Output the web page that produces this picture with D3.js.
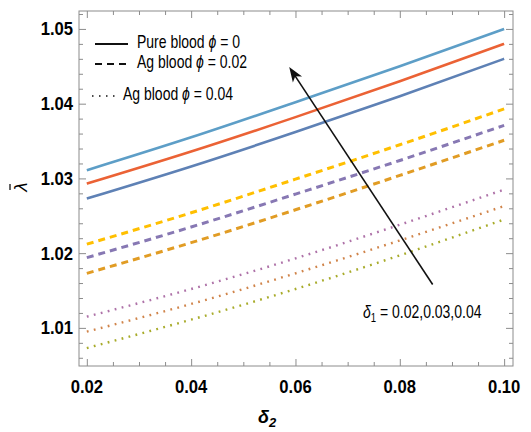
<!DOCTYPE html>
<html>
<head>
<meta charset="utf-8">
<script src="https://cdn.jsdelivr.net/npm/d3@7"></script>
<style>
  body { margin: 0; background: #fff; }
  svg text { font-family: "Liberation Sans", Arial, sans-serif; }
</style>
</head>
<body>
<div id="chart"></div>
<script>
// delta2 values along the x axis
var delta2 = [0.02, 0.04, 0.06, 0.08, 0.10];

// pure blood (phi = 0), delta1 = 0.02, 0.03, 0.04
var pure1 = [1.0273, 1.0316, 1.0362, 1.0410, 1.0460];
var pure2 = [1.0293, 1.0336, 1.0382, 1.0430, 1.0480];
var pure3 = [1.0311, 1.0355, 1.0402, 1.0450, 1.0500];
// Ag blood phi = 0.02
var ag02a = [1.0173, 1.0214, 1.0258, 1.0304, 1.0351];
var ag02b = [1.0194, 1.0235, 1.0279, 1.0324, 1.0371];
var ag02c = [1.0212, 1.0254, 1.0299, 1.0345, 1.0393];
// Ag blood phi = 0.04
var ag04a = [1.0073, 1.0111, 1.0152, 1.0197, 1.0245];
var ag04b = [1.0095, 1.0132, 1.0173, 1.0217, 1.0263];
var ag04c = [1.0115, 1.0152, 1.0193, 1.0238, 1.0285];

var xTicks = [0.02, 0.04, 0.06, 0.08, 0.10];
var yTicks = [1.01, 1.02, 1.03, 1.04, 1.05];
var xMinor = [0.025, 0.03, 0.035, 0.045, 0.05, 0.055, 0.065, 0.07, 0.075, 0.085, 0.09, 0.095];
var yMinor = [1.006, 1.008, 1.012, 1.014, 1.016, 1.018, 1.022, 1.024, 1.026, 1.028,
              1.032, 1.034, 1.036, 1.038, 1.042, 1.044, 1.046, 1.048, 1.052];

// arrow from tail to tip, in data units
var arrow = [[0.0863, 1.0158], [0.0588, 1.0449]];

var w = 531, h = 432;
var mL = 79, mR = 513, mT = 11, mB = 366;
var frameColor = '#8c8c8c';

var series = [
  {v: pure1, color: '#5E81B5', dash: null},
  {v: pure2, color: '#EB6235', dash: null},
  {v: pure3, color: '#5D9EC7', dash: null},
  {v: ag02a, color: '#E19C24', dash: '7,5'},
  {v: ag02b, color: '#8778B3', dash: '7,5'},
  {v: ag02c, color: '#FFBF00', dash: '7,5'},
  {v: ag04a, color: '#A8AB2A', dash: '1.8,5.4'},
  {v: ag04b, color: '#D0844A', dash: '1.8,5.4'},
  {v: ag04c, color: '#AE72A8', dash: '1.8,5.4'}
];

var x = d3.scaleLinear().domain([0.0185, 0.1017]).range([mL, mR]);
var y = d3.scaleLinear().domain([1.0049, 1.0524]).range([mB, mT]);

var svg = d3.select("#chart").append("svg")
   .attr("width", w)
   .attr("height", h);

var line = d3.line()
   .x(function(d, i) { return x(delta2[i]); })
   .y(function(d) { return y(d); })
   .curve(d3.curveNatural);

svg.selectAll("path.curve")
   .data(series)
   .enter()
   .append("path")
   .attr("class", "curve")
   .attr("d", function(d) { return line(d.v); })
   .attr("fill", "none")
   .attr("stroke", function(d) { return d.color; })
   .attr("stroke-width", function(d) { return d.dash == '7,5' ? 3 : (d.dash ? 2.4 : 2.6); })
   .attr("stroke-dasharray", function(d) { return d.dash; });

// frame + ticks (inward on all four sides)
function axes(axisFn, scale, vals, size, tx, ty) {
  var g = svg.append("g")
     .attr("transform", "translate(" + tx + "," + ty + ")")
     .call(axisFn(scale).tickValues(vals).tickSize(size).tickFormat("").tickSizeOuter(0));
  g.select(".domain").remove();
  g.selectAll("line").attr("stroke", frameColor);
  return g;
}
axes(d3.axisBottom, x, xTicks, -7, 0, mB);
axes(d3.axisBottom, x, xMinor, -4, 0, mB);
axes(d3.axisTop, x, xTicks, -7, 0, mT);
axes(d3.axisTop, x, xMinor, -4, 0, mT);
axes(d3.axisLeft, y, yTicks, -7, mL, 0);
axes(d3.axisLeft, y, yMinor, -4, mL, 0);
axes(d3.axisRight, y, yTicks, -7, mR, 0);
axes(d3.axisRight, y, yMinor, -4, mR, 0);

svg.append("rect")
   .attr("x", mL).attr("y", mT)
   .attr("width", mR - mL).attr("height", mB - mT)
   .attr("fill", "none").attr("stroke", frameColor).attr("stroke-width", 1);

// tick labels (slightly condensed, like the original)
svg.selectAll("g.xt")
   .data(xTicks)
   .enter()
   .append("g")
   .attr("transform", function(d) { return "translate(" + x(d) + "," + (mB + 27) + ") scale(0.9,1)"; })
   .append("text")
   .attr("text-anchor", "middle")
   .attr("font-size", "18.5px")
   .attr("font-weight", "bold")
   .text(function(d) { return d3.format(".2f")(d); });

svg.selectAll("g.yt")
   .data(yTicks)
   .enter()
   .append("g")
   .attr("transform", function(d) { return "translate(" + (mL - 6) + "," + (y(d) + 6.5) + ") scale(0.9,1)"; })
   .append("text")
   .attr("text-anchor", "end")
   .attr("font-size", "18.5px")
   .attr("font-weight", "bold")
   .text(function(d) { return d3.format(".2f")(d); });

// axis titles
var xl = svg.append("text")
   .attr("x", 258).attr("y", 423)
   .attr("font-size", "18px").attr("font-style", "italic").attr("font-weight", "bold");
xl.append("tspan").text("δ");
xl.append("tspan").attr("font-size", "13px").attr("dy", 4).text("2");

var yl = svg.append("g").attr("transform", "translate(27,187) rotate(-90)");
yl.append("text")
   .attr("text-anchor", "middle")
   .attr("font-size", "19px").attr("font-style", "italic")
   .text("λ");
yl.append("line")
   .attr("x1", -3).attr("x2", 3).attr("y1", -17).attr("y2", -17)
   .attr("stroke", "#111").attr("stroke-width", 1.3);

// arrow
var p0 = [x(arrow[0][0]), y(arrow[0][1])], p1 = [x(arrow[1][0]), y(arrow[1][1])];
var ang = Math.atan2(p1[1] - p0[1], p1[0] - p0[0]);
var hl = 15, hw = 5.5;
function pt(dl, dw) {
  return [p1[0] - dl * Math.cos(ang) - dw * Math.sin(ang),
          p1[1] - dl * Math.sin(ang) + dw * Math.cos(ang)];
}
svg.append("line")
   .attr("x1", p0[0]).attr("y1", p0[1])
   .attr("x2", pt(10, 0)[0]).attr("y2", pt(10, 0)[1])
   .attr("stroke", "#111").attr("stroke-width", 1.6);
svg.append("path")
   .attr("d", "M" + [p1, pt(hl, hw), pt(11, 0), pt(hl, -hw)].map(function(p) { return p.join(","); }).join("L") + "Z")
   .attr("fill", "#111");

// annotation
var narrow = "scale(0.8,1)";
var ann = svg.append("g").attr("transform", "translate(363,318) " + narrow);
var at = ann.append("text").attr("font-size", "17.5px");
at.append("tspan").attr("font-style", "italic").text("δ");
at.append("tspan").attr("font-size", "12px").attr("dy", 4).text("1");
at.append("tspan").attr("dy", -4).text(" = 0.02,0.03,0.04");

// legend
var legend = [
  {label: "Pure blood ", phi: " = 0", dash: null, x1: 95, x2: 128, ty: 48, ly: 44, tx: 137},
  {label: "Ag blood ", phi: " = 0.02", dash: "7,5", x1: 95, x2: 128, ty: 68, ly: 64, tx: 137},
  {label: "Ag blood ", phi: " = 0.04", dash: "1.5,5.5", x1: 92, x2: 116, ty: 100, ly: 96, tx: 123}
];
legend.forEach(function(d) {
  svg.append("line")
     .attr("x1", d.x1).attr("x2", d.x2).attr("y1", d.ly).attr("y2", d.ly)
     .attr("stroke", "#111").attr("stroke-width", d.dash == "1.5,5.5" ? 1.4 : 2)
     .attr("stroke-dasharray", d.dash);
  var t = svg.append("g").attr("transform", "translate(" + d.tx + "," + d.ty + ") " + narrow)
     .append("text").attr("font-size", "17.5px");
  t.append("tspan").text(d.label);
  t.append("tspan").attr("font-style", "italic").text("ϕ");
  t.append("tspan").text(d.phi);
});
</script>
</body>
</html>
